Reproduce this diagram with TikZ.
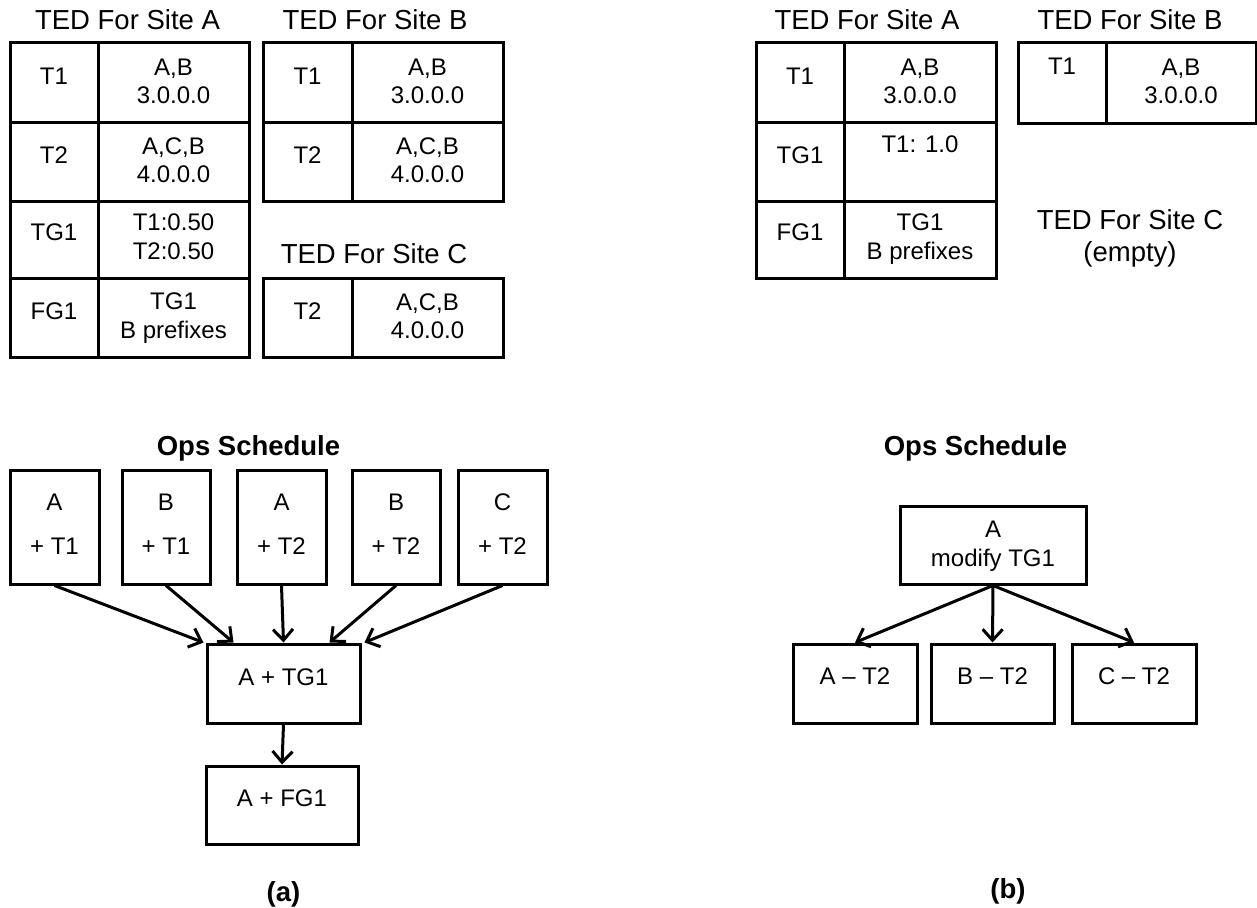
\documentclass[tikz,border=0pt]{standalone}
\usepackage{fontspec}
\setmainfont{Liberation Sans}
\usetikzlibrary{arrows.meta}
\begin{document}
\begin{tikzpicture}[x=1pt,y=-1pt,
  box/.style={draw, line width=3pt, inner sep=0pt},
  ttl/.style={font=\fontsize{27.5}{33}\selectfont, inner sep=0pt, text height=19.7pt, text depth=0pt},
  hd/.style={font=\bfseries\fontsize{27.5}{33}\selectfont, inner sep=0pt, text height=19.7pt, text depth=0pt},
  sublabel/.style={font=\bfseries\fontsize{27.5}{33}\selectfont, inner sep=0pt, anchor=base},
  txt/.style={font=\fontsize{24}{28}\selectfont, inner sep=0pt, text height=17.2pt, text depth=0pt},
  arr/.style={line width=3pt, -{Straight Barb[length=11pt,width=20pt]}}]
\useasboundingbox (0,0) rectangle (1257,907);

% ---------------- (a) : TED tables ----------------
\node[ttl] (aTa) at (127.5,20) {TED For Site A};
\node[box, minimum width=88pt,  minimum height=79pt] (aA1k) at (54,82.5) {};
\node[box, minimum width=151pt, minimum height=79pt] (aA1v) at (173.5,82.5) {};
\node[box, minimum width=88pt,  minimum height=79pt] (aA2k) at (54,161.5) {};
\node[box, minimum width=151pt, minimum height=79pt] (aA2v) at (173.5,161.5) {};
\node[box, minimum width=88pt,  minimum height=77pt] (aA3k) at (54,239.5) {};
\node[box, minimum width=151pt, minimum height=77pt] (aA3v) at (173.5,239.5) {};
\node[box, minimum width=88pt,  minimum height=79pt] (aA4k) at (54,317.5) {};
\node[box, minimum width=151pt, minimum height=79pt] (aA4v) at (173.5,317.5) {};
\node[txt] (aA1kt) at (54,76) {T1};
\node[txt] (aA1va) at (173.5,66.5) {A,B};
\node[txt] (aA1vb) at (173.5,95) {3.0.0.0};
\node[txt] (aA2kt) at (54,155) {T2};
\node[txt] (aA2va) at (173.5,145.5) {A,C,B};
\node[txt] (aA2vb) at (173.5,173.5) {4.0.0.0};
\node[txt] (aA3kt) at (54,232) {TG1};
\node[txt] (aA3va) at (173.5,222) {T1:0.50};
\node[txt] (aA3vb) at (173.5,251) {T2:0.50};
\node[txt] (aA4kt) at (54,311) {FG1};
\node[txt] (aA4va) at (173.5,300.5) {TG1};
\node[txt] (aA4vb) at (173.5,329.5) {B prefixes};

\node[ttl] (aTb) at (375,20) {TED For Site B};
\node[box, minimum width=89pt,  minimum height=79pt] (aB1k) at (307.5,82.5) {};
\node[box, minimum width=151pt, minimum height=79pt] (aB1v) at (427.5,82.5) {};
\node[box, minimum width=89pt,  minimum height=79pt] (aB2k) at (307.5,161.5) {};
\node[box, minimum width=151pt, minimum height=79pt] (aB2v) at (427.5,161.5) {};
\node[txt] (aB1kt) at (307.5,76) {T1};
\node[txt] (aB1va) at (427.5,66.5) {A,B};
\node[txt] (aB1vb) at (427.5,95) {3.0.0.0};
\node[txt] (aB2kt) at (307.5,155) {T2};
\node[txt] (aB2va) at (427.5,145.5) {A,C,B};
\node[txt] (aB2vb) at (427.5,173.5) {4.0.0.0};

\node[ttl] (aTc) at (374,254) {TED For Site C};
\node[box, minimum width=89pt,  minimum height=79pt] (aC1k) at (307.5,317.5) {};
\node[box, minimum width=151pt, minimum height=79pt] (aC1v) at (427.5,317.5) {};
\node[txt] (aC1kt) at (307.5,311) {T2};
\node[txt] (aC1va) at (427.5,301.5) {A,C,B};
\node[txt] (aC1vb) at (427.5,330) {4.0.0.0};

% ---------------- (a) : ops schedule ----------------
\node[hd] (aOps) at (248.5,446) {Ops Schedule};
\node[box, minimum width=89pt, minimum height=114pt] (o1) at (54.5,527) {};
\node[box, minimum width=88pt, minimum height=114pt] (o2) at (166,527) {};
\node[box, minimum width=89pt, minimum height=114pt] (o3) at (281.5,527) {};
\node[box, minimum width=88pt, minimum height=114pt] (o4) at (396,527) {};
\node[box, minimum width=89pt, minimum height=114pt] (o5) at (502.5,527) {};
\node[txt] (o1a) at (54.5,502) {A};
\node[txt] (o1b) at (54.5,545.5) {+ T1};
\node[txt] (o2a) at (166,502) {B};
\node[txt] (o2b) at (166,545.5) {+ T1};
\node[txt] (o3a) at (281.5,502) {A};
\node[txt] (o3b) at (281.5,545.5) {+ T2};
\node[txt] (o4a) at (396,502) {B};
\node[txt] (o4b) at (396,545.5) {+ T2};
\node[txt] (o5a) at (502.5,502) {C};
\node[txt] (o5b) at (502.5,545.5) {+ T2};

\node[box, minimum width=153pt, minimum height=79pt] (tg) at (283.5,683.5) {};
\node[txt] (tgt) at (283.5,677) {A + TG1};
\node[box, minimum width=152pt, minimum height=78pt] (fg) at (282,805) {};
\node[txt] (fgt) at (282,798) {A + FG1};

\draw[arr] (o1.south) -- ([xshift=-2pt]tg.north west);
\draw[arr] (o2.south) -- ([xshift=28pt]tg.north west);
\draw[arr] (o3.south) -- (tg.north);
\draw[arr] (o4.south) -- ([xshift=-32pt]tg.north east);
\draw[arr] (o5.south) -- ([xshift=3pt]tg.north east);
\draw[arr] (tg.south) -- (fg.north);

\node[sublabel] (la) at (283.5,901) {(a)};

% ---------------- (b) : TED tables ----------------
\node[ttl] (bTa) at (867,20) {TED For Site A};
\node[box, minimum width=88pt,  minimum height=79pt] (bA1k) at (800,82.5) {};
\node[box, minimum width=152pt, minimum height=79pt] (bA1v) at (920,82.5) {};
\node[box, minimum width=88pt,  minimum height=79pt] (bA2k) at (800,161.5) {};
\node[box, minimum width=152pt, minimum height=79pt] (bA2v) at (920,161.5) {};
\node[box, minimum width=88pt,  minimum height=77pt] (bA3k) at (800,239.5) {};
\node[box, minimum width=152pt, minimum height=77pt] (bA3v) at (920,239.5) {};
\node[txt] (bA1kt) at (800,76) {T1};
\node[txt] (bA1va) at (920,66.5) {A,B};
\node[txt] (bA1vb) at (920,95) {3.0.0.0};
\node[txt] (bA2kt) at (800,155) {TG1};
\node[txt] (bA2va) at (920,144) {T1: 1.0};
\node[txt] (bA3kt) at (800,232) {FG1};
\node[txt] (bA3va) at (920,222) {TG1};
\node[txt] (bA3vb) at (920,251) {B prefixes};

\node[ttl] (bTb) at (1130,20) {TED For Site B};
\node[box, minimum width=88pt,  minimum height=80pt] (bB1k) at (1062,83) {};
\node[box, minimum width=150pt, minimum height=80pt] (bB1v) at (1181,83) {};
\node[txt] (bB1kt) at (1062,66) {T1};
\node[txt] (bB1va) at (1181,66.5) {A,B};
\node[txt] (bB1vb) at (1181,95) {3.0.0.0};

\node[ttl] (bTc) at (1130,220) {TED For Site C};
\node[ttl] (bTce) at (1130,252) {(empty)};

% ---------------- (b) : ops schedule ----------------
\node[hd] (bOps) at (975.5,446) {Ops Schedule};
\node[box, minimum width=186pt, minimum height=78pt] (md) at (993,545) {};
\node[txt] (mda) at (993,528.5) {A};
\node[txt] (mdb) at (993,557.5) {modify TG1};
\node[box, minimum width=124pt, minimum height=79pt] (ra) at (855,683.5) {};
\node[box, minimum width=123pt, minimum height=79pt] (rb) at (992.5,683.5) {};
\node[box, minimum width=124pt, minimum height=79pt] (rc) at (1134,683.5) {};
\node[txt] (rat) at (855,676) {A -- T2};
\node[txt] (rbt) at (992.5,676) {B -- T2};
\node[txt] (rct) at (1134,676) {C -- T2};

\draw[arr] (md.south) -- (ra.north);
\draw[arr] (md.south) -- (rb.north);
\draw[arr] (md.south) -- (rc.north);

\node[sublabel] (lb) at (1008,898) {(b)};
\end{tikzpicture}
\end{document}
